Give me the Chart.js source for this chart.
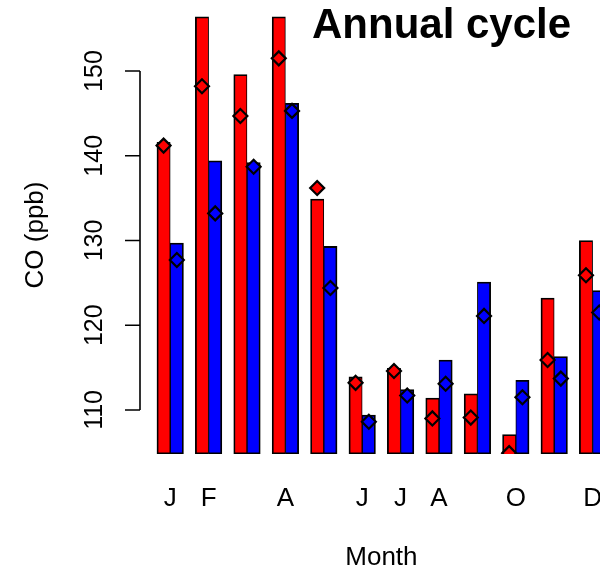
<!DOCTYPE html>
<html>
<head>
<meta charset="utf-8">
<script src="https://cdn.jsdelivr.net/npm/chart.js@4/dist/chart.umd.min.js"></script>
<style>
  html, body { margin: 0; padding: 0; background: #fff; overflow: hidden; width: 600px; height: 572px; }
  #wrap { position: relative; width: 600px; height: 572px; overflow: hidden; }
  canvas { display: block; }
</style>
</head>
<body>
<div id="wrap"><canvas id="c" width="621" height="572" style="width:621px;height:572px"></canvas></div>
<script>
// ---- data ----
const MONTHS = ['Jan','Feb','Mar','Apr','May','Jun','Jul','Aug','Sep','Oct','Nov','Dec'];
const X_TICK_LABELS = ['J','F','','A','','J','J','A','','O','','D'];
const RED_BARS  = [141.6, 156.4, 149.6, 156.4, 134.9, 113.9, 114.9, 111.4, 111.9, 107.1, 123.2, 130.0];
const BLUE_BARS = [129.7, 139.4, 139.2, 146.2, 129.3, 109.4, 112.4, 115.9, 125.1, 113.5, 116.3, 124.1];
const RED_POINTS  = [141.2, 148.2, 144.7, 151.5, 136.2, 113.2, 114.6, 109.0, 109.1, 104.9, 115.9, 125.9];
const BLUE_POINTS = [127.7, 133.2, 138.7, 145.3, 124.4, 108.6, 111.7, 113.1, 121.1, 111.5, 113.7, 121.5];
const Y_TICKS = [110, 120, 130, 140, 150];
const Y_MIN = 104.8, Y_MAX = 156.5;

const GROUP_FRAC = 0.69;          // share of a month slot taken by the pair of bars
const OFF = GROUP_FRAC / 4;       // centre of each bar relative to the month position
const BAR_W = 13.25;              // px

const FONT = "'Liberation Sans', Arial, Helvetica, sans-serif";

const rAxisPlugin = {
  id: 'rAxis',
  afterDraw(chart) {
    const ctx = chart.ctx;
    const y = chart.scales.y;
    const x0 = 140, tl = 15;
    ctx.save();
    ctx.strokeStyle = '#000';
    ctx.lineWidth = 1.6;
    ctx.beginPath();
    ctx.moveTo(x0, y.getPixelForValue(Y_TICKS[0]));
    ctx.lineTo(x0, y.getPixelForValue(Y_TICKS[Y_TICKS.length - 1]));
    Y_TICKS.forEach(v => {
      const p = y.getPixelForValue(v);
      ctx.moveTo(x0 - tl, p);
      ctx.lineTo(x0, p);
    });
    ctx.stroke();
    ctx.fillStyle = '#000';
    ctx.font = "bold 42px " + FONT;
    ctx.textAlign = 'left';
    ctx.textBaseline = 'alphabetic';
    ctx.fillText('Annual cycle', 312, 38);
    ctx.restore();
  }
};

new Chart(document.getElementById('c'), {
  type: 'bar',
  data: {
    datasets: [
      {
        label: 'red', stack: 'a', order: 1,
        data: RED_BARS.map((v, i) => ({ x: i, y: v })),
        backgroundColor: '#ff0000', borderColor: '#000',
        borderWidth: { top: 1.8, bottom: 1.8, left: 1.8, right: 1 }, borderSkipped: false,
        base: Y_MIN, barThickness: BAR_W
      },
      {
        label: 'blue', stack: 'b', order: 1,
        data: BLUE_BARS.map((v, i) => ({ x: i, y: v })),
        backgroundColor: '#0000ff', borderColor: '#000',
        borderWidth: { top: 1.8, bottom: 1.8, left: 1, right: 1.8 }, borderSkipped: false,
        base: Y_MIN, barThickness: BAR_W
      },
      {
        type: 'scatter', label: 'red median', stack: 'a', order: 0,
        data: RED_POINTS.map((v, i) => ({ x: i - OFF, y: v })),
        pointStyle: 'rectRot', pointRadius: 7, pointBackgroundColor: '#ff0000',
        pointBorderColor: '#000', pointBorderWidth: 2.2, clip: 0
      },
      {
        type: 'scatter', label: 'blue median', stack: 'b', order: 0,
        data: BLUE_POINTS.map((v, i) => ({ x: i + OFF, y: v })),
        pointStyle: 'rectRot', pointRadius: 7, pointBackgroundColor: '#0000ff',
        pointBorderColor: '#000', pointBorderWidth: 2.2, clip: 0
      }
    ]
  },
  options: {
    responsive: false,
    animation: false,
    events: [],
    layout: { padding: { top: 16, left: 0, right: 0, bottom: 0 } },
    plugins: { legend: { display: false }, tooltip: { enabled: false }, title: { display: false } },
    scales: {
      x: {
        type: 'linear', min: -0.5, max: 11.5, offset: false,
        grid: { display: false, drawTicks: false },
        border: { display: false },
        afterBuildTicks: s => { s.ticks = MONTHS.map((m, i) => ({ value: i })); },
        afterFit: s => { s.height = 118; s.paddingLeft = 0; s.paddingRight = 0; },
        ticks: {
          autoSkip: false, maxRotation: 0, minRotation: 0, padding: 29,
          color: '#000', font: { family: FONT, size: 26 },
          callback: (v, i) => X_TICK_LABELS[i]
        },
        title: {
          display: true, text: 'Month', color: '#000',
          font: { family: FONT, size: 26, lineHeight: 1.0 },
          padding: { top: 0, bottom: 1 }
        }
      },
      y: {
        type: 'linear', min: Y_MIN, max: Y_MAX,
        grid: { display: false, drawTicks: false },
        border: { display: false },
        afterFit: s => { s.width = 151; s.paddingTop = 0; s.paddingBottom = 0; },
        afterBuildTicks: s => { s.ticks = Y_TICKS.map(v => ({ value: v })); },
        ticks: {
          minRotation: 90, maxRotation: 90, crossAlign: 'center', padding: 35,
          color: '#000', font: { family: FONT, size: 25 }
        },
        title: {
          display: true, text: 'CO (ppb)', color: '#000',
          font: { family: FONT, size: 26 },
          padding: { top: 20, bottom: 0 }
        }
      }
    }
  },
  plugins: [rAxisPlugin]
});
</script>
</body>
</html>
